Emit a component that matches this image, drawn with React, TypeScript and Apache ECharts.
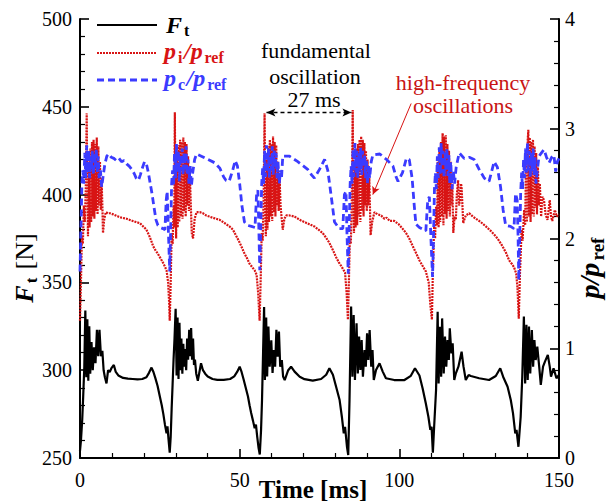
import React, { useEffect, useRef } from "react";
import * as echarts from "echarts";

const SERIF = "Liberation Serif";
const RED = "#d81414";
const BLUE = "#3b3bff";
const TEXT_RED = "#c81414";

// Thrust F_t [N] over time [ms]
const ftData: [number, number][] = [
  [0, 254], [0.3, 260], [0.7, 272], [1.0, 285], [1.35, 302], [1.67, 334], [1.98, 296], [2.3, 329], [2.6, 294], [2.9, 325],
  [3.2, 298], [3.6, 316], [4.0, 300], [4.4, 313], [4.85, 304], [5.3, 323], [5.7, 308], [6.1, 323], [6.55, 308], [7.0, 311],
  [7.4, 300], [7.8, 296], [8.3, 292.5], [8.8, 300], [9.3, 299], [9.8, 301], [10.6, 303], [11.2, 299], [12.0, 297], [13.5, 295.6],
  [15.0, 295.2], [16.5, 295], [18.0, 294.8], [19.5, 295], [20.8, 296], [21.6, 298.5], [22.4, 301.5], [23.0, 299], [23.6, 295.5], [24.3, 291],
  [25.0, 285], [25.6, 280], [26.1, 275], [26.6, 269], [27.1, 264], [27.4, 268], [27.7, 261], [28.1, 253],
  [28.4, 262], [28.7, 278], [29.0, 292], [29.3, 306], [29.6, 318], [29.95, 335], [30.25, 297], [30.55, 330], [30.85, 295], [31.15, 327],
  [31.45, 300], [31.75, 318], [32.05, 298], [32.35, 315], [32.65, 302], [32.95, 312], [33.25, 300], [33.55, 318], [33.85, 306], [34.2, 323],
  [34.5, 308], [34.8, 324], [35.1, 306], [35.4, 318], [35.7, 303], [36.0, 306], [36.4, 298], [36.9, 294], [37.4, 299], [37.9, 304],
  [38.5, 300], [39.2, 298], [40.0, 296.4], [41.5, 295], [43.0, 294.5], [45.0, 294.5], [47.0, 295], [48.3, 296.5], [49.2, 299], [50.0, 302],
  [50.6, 299], [51.2, 295], [51.9, 290], [52.6, 285], [53.1, 280], [53.6, 275.6], [54.2, 271], [54.7, 267], [55.1, 269], [55.5, 262],
  [55.9, 256], [56.3, 252],
  [56.7, 266], [57.0, 283], [57.35, 311.5], [57.65, 336], [57.9, 294.4], [58.3, 330], [58.6, 296.4], [59.0, 324.8], [59.4, 302], [59.9, 317],
  [60.3, 298.4], [60.7, 311.5], [61.1, 302], [61.5, 323], [61.9, 307.7], [62.3, 322], [62.7, 302], [63.2, 305.8], [63.6, 296.4], [64.1, 294.4],
  [65.2, 300], [66.1, 302], [67.2, 299.2], [68.8, 296.3], [70.3, 294.9], [72.9, 294.1], [75.5, 295], [77.1, 297.4], [78.1, 301.1], [79.2, 297.4],
  [80.2, 290.6], [81.3, 283], [82.0, 273.5], [82.6, 264], [83.0, 267.8], [83.6, 256.4], [84.0, 251.7],
  [84.4, 283], [84.9, 336.2], [85.3, 296.3], [85.7, 331.4], [86.1, 294.4], [86.6, 326.7], [87.0, 298.2], [87.4, 319.1], [87.8, 300.1], [88.2, 317.2],
  [88.6, 296.3], [89.1, 311.5], [89.5, 302], [89.9, 321], [90.3, 305.8], [90.7, 322.9], [91.2, 302], [91.6, 311.5], [92.0, 294.4], [92.7, 300.1],
  [93.8, 303.9], [94.8, 299.2], [95.8, 295.4], [98.4, 294.4], [101.6, 294.4], [103.6, 296.8], [104.9, 301.1], [106.3, 297], [107.3, 289.6], [108.3, 281],
  [109.1, 273.5], [109.7, 266], [110.1, 267.8], [110.5, 253],
  [110.9, 267.8], [111.5, 288.7], [112.0, 333.3], [112.3, 292.5], [112.7, 324.8], [113.1, 296.3], [113.4, 329.5], [113.9, 298.2], [114.3, 319.1], [114.7, 302],
  [115.1, 317.2], [115.5, 305.8], [115.8, 323.9], [116.3, 309.6], [116.7, 315.3], [117.2, 294.4], [117.7, 298.2], [118.5, 302], [119.5, 310.5], [120.1, 302],
  [120.8, 294.4], [121.7, 297.3], [122.4, 296.7], [125.0, 295.4], [128.1, 294.4], [130.2, 296.7], [131.6, 301.1], [132.5, 296.3], [133.9, 290.6], [134.9, 283],
  [135.6, 275.4], [136.3, 264], [136.7, 266], [137.3, 256.4],
  [138.0, 273.5], [138.5, 296.3], [139.0, 330.5], [139.4, 292.5], [139.8, 325.8], [140.2, 294.4], [140.6, 324.8], [141.0, 298.2], [141.5, 322.9], [141.9, 302],
  [142.3, 317.2], [142.7, 305.8], [143.2, 313.4], [143.8, 302], [144.3, 291.6], [145.0, 302], [145.6, 304.9], [146.5, 308.7], [147.1, 302], [147.5, 296.3],
  [148.3, 301.1], [149.2, 295.4], [150, 297.3],
];

// Injector pressure ratio p_i / p_ref
const piData: [number, number][] = [
  [0, 1.25], [0.3, 1.6], [0.6, 2.02], [0.9, 1.95], [1.2, 2.3], [1.5, 2.15], [1.8, 2.45], [2.1, 3.14], [2.3, 2.4], [2.5, 2.02],
  [2.75, 2.7], [3.0, 2.1], [3.25, 2.82], [3.5, 2.15], [3.75, 2.88], [4.0, 2.2], [4.25, 2.9], [4.5, 2.18], [4.75, 2.86], [5.0, 2.25],
  [5.25, 2.92], [5.5, 2.22], [5.75, 2.84], [6.0, 2.3], [6.25, 2.7], [6.5, 2.26], [6.75, 2.55], [7.0, 2.3], [7.2, 2.05], [7.6, 2.18],
  [8.1, 2.24], [8.8, 2.23], [9.4, 2.23], [10.4, 2.22], [11.2, 2.21], [12.0, 2.2], [13.0, 2.19], [14.6, 2.18], [15.5, 2.17], [16.5, 2.16],
  [17.5, 2.15], [18.75, 2.14], [19.8, 2.11], [20.8, 2.08], [21.6, 2.03], [22.3, 1.98], [22.9, 1.93], [23.7, 1.89], [24.4, 1.86], [25.0, 1.83],
  [25.8, 1.79], [26.5, 1.75], [27.1, 1.71], [27.6, 1.6], [27.9, 1.42], [28.1, 1.25],
  [28.4, 1.6], [28.7, 2.05], [29.0, 1.95], [29.3, 2.3], [29.5, 2.1], [29.7, 3.15], [29.9, 2.3], [30.1, 2.0], [30.35, 2.75], [30.6, 2.1],
  [30.85, 2.85], [31.1, 2.15], [31.35, 2.9], [31.6, 2.2], [31.85, 2.88], [32.1, 2.18], [32.35, 2.92], [32.6, 2.25], [32.85, 2.88], [33.1, 2.2],
  [33.35, 2.86], [33.6, 2.3], [33.85, 2.75], [34.1, 2.25], [34.4, 2.6], [34.7, 2.3], [35.0, 2.05], [35.4, 2.0], [35.9, 2.18], [36.5, 2.24],
  [37.5, 2.24], [38.5, 2.23], [39.5, 2.21], [40.5, 2.2], [41.5, 2.19], [42.6, 2.18], [43.75, 2.17], [44.8, 2.15], [45.8, 2.13], [46.8, 2.11],
  [47.9, 2.08], [48.8, 2.03], [49.7, 1.98], [50.5, 1.93], [51.4, 1.87], [52.3, 1.82], [53.1, 1.77], [53.9, 1.74], [54.7, 1.71], [55.3, 1.67],
  [55.8, 1.5], [56.25, 1.25],
  [56.6, 1.65], [56.9, 2.05], [57.2, 1.98], [57.5, 2.35], [57.8, 3.14], [58.0, 2.3], [58.2, 2.02], [58.45, 2.72], [58.7, 2.08], [58.95, 2.84],
  [59.2, 2.15], [59.45, 2.9], [59.7, 2.2], [59.95, 2.86], [60.2, 2.16], [60.45, 2.93], [60.7, 2.24], [60.95, 2.88], [61.2, 2.2], [61.45, 2.85],
  [61.7, 2.3], [61.95, 2.7], [62.2, 2.25], [62.5, 2.55], [62.8, 2.3], [63.1, 2.2], [63.5, 2.08], [64.0, 2.18], [64.6, 2.21], [65.6, 2.21],
  [67.2, 2.2], [68.8, 2.17], [70.3, 2.15], [71.8, 2.13], [73.4, 2.11], [74.7, 2.08], [76.0, 2.05], [77.0, 2.01], [78.1, 1.96], [79.1, 1.9],
  [80.2, 1.83], [81.1, 1.78], [82.0, 1.74], [83.0, 1.69], [83.5, 1.5], [83.9, 1.26],
  [84.2, 1.6], [84.5, 2.0], [84.8, 1.95], [85.1, 2.3], [85.4, 3.17], [85.6, 2.35], [85.8, 2.05], [86.05, 2.7], [86.3, 2.1], [86.55, 2.82],
  [86.8, 2.12], [87.05, 2.86], [87.3, 2.2], [87.55, 2.9], [87.8, 2.15], [88.05, 2.93], [88.3, 2.25], [88.55, 2.9], [88.8, 2.2], [89.05, 2.87],
  [89.3, 2.3], [89.55, 2.8], [89.8, 2.25], [90.05, 2.72], [90.3, 2.3], [90.6, 2.55], [91.0, 2.03], [91.5, 2.15], [92.2, 2.24], [93.2, 2.22],
  [94.3, 2.21], [95.3, 2.18], [96.0, 2.19], [97.0, 2.16], [98.4, 2.16], [99.8, 2.13], [101.0, 2.09], [102.1, 2.05], [103.1, 2.0], [104.2, 1.93],
  [105.2, 1.87], [106.3, 1.8], [107.3, 1.75], [108.3, 1.7], [109.2, 1.6], [109.7, 1.4], [110.2, 1.26],
  [110.5, 1.7], [110.9, 2.11], [111.2, 2.0], [111.5, 2.29], [111.8, 2.12], [112.05, 2.7], [112.3, 2.1], [112.55, 2.8], [112.8, 2.15], [113.05, 2.88],
  [113.3, 2.2], [113.55, 2.96], [113.8, 2.12], [114.05, 2.93], [114.3, 2.22], [114.55, 2.94], [114.8, 2.18], [115.05, 2.86], [115.3, 2.25], [115.55, 2.8],
  [115.8, 2.2], [116.05, 2.7], [116.35, 2.3], [116.6, 2.5], [116.9, 2.05], [117.3, 2.2], [117.7, 2.17], [118.0, 2.4], [118.4, 2.53], [118.7, 2.3],
  [119.0, 2.35], [119.3, 2.5], [119.5, 2.47], [120.0, 2.14], [120.8, 2.21], [121.9, 2.23], [123.0, 2.2], [124.0, 2.18], [125.5, 2.15], [127.1, 2.11],
  [128.6, 2.07], [130.2, 2.02], [131.2, 1.98], [132.3, 1.93], [133.4, 1.87], [134.4, 1.8], [135.2, 1.77], [135.9, 1.74], [136.6, 1.68], [137.0, 1.55],
  [137.4, 1.27],
  [137.8, 1.7], [138.3, 2.08], [138.6, 1.98], [139.1, 2.26], [139.4, 2.12], [139.7, 2.75], [139.95, 2.15], [140.2, 2.9], [140.4, 2.99], [140.6, 2.2],
  [140.85, 2.92], [141.1, 2.15], [141.35, 2.88], [141.6, 2.22], [141.85, 2.9], [142.1, 2.2], [142.35, 2.84], [142.6, 2.28], [142.85, 2.78], [143.1, 2.22],
  [143.4, 2.65], [143.7, 2.3], [144.0, 2.5], [144.4, 2.2], [144.8, 2.38], [145.3, 2.35], [145.8, 2.22], [146.4, 2.17], [147.1, 2.35], [147.5, 2.2],
  [147.9, 2.16], [148.7, 2.26], [149.3, 2.2], [150, 2.22],
];

// Chamber pressure ratio p_c / p_ref
const pcData: [number, number][] = [
  [0, 1.7], [0.3, 2.1], [0.6, 2.5], [0.9, 2.62], [1.2, 2.5], [1.5, 2.78], [1.8, 2.55], [2.1, 2.85], [2.4, 2.6], [2.7, 2.8],
  [3.0, 2.55], [3.3, 2.75], [3.6, 2.62], [3.9, 2.8], [4.2, 2.58], [4.5, 2.78], [4.8, 2.65], [5.1, 2.82], [5.4, 2.6], [5.7, 2.75],
  [6.0, 2.55], [6.4, 2.62], [6.8, 2.47], [7.3, 2.58], [7.8, 2.68], [8.4, 2.75], [9.0, 2.77], [9.8, 2.74], [10.6, 2.73], [11.4, 2.71],
  [12.2, 2.73], [13.0, 2.7], [13.8, 2.71], [14.6, 2.68], [15.4, 2.66], [16.2, 2.63], [17.0, 2.59], [17.6, 2.55], [18.3, 2.53], [18.9, 2.58],
  [19.5, 2.64], [20.2, 2.7], [20.8, 2.68], [21.4, 2.6], [22.0, 2.5], [22.6, 2.4], [23.2, 2.28], [23.8, 2.17], [24.4, 2.12], [25.2, 2.1],
  [26.0, 2.09], [26.6, 2.08], [27.0, 2.35], [27.3, 2.43], [27.7, 2.05], [28.1, 1.7],
  [28.4, 2.1], [28.7, 2.5], [29.0, 2.62], [29.3, 2.48], [29.6, 2.78], [29.9, 2.55], [30.2, 2.86], [30.5, 2.6], [30.8, 2.8], [31.1, 2.52],
  [31.4, 2.76], [31.7, 2.62], [32.0, 2.82], [32.3, 2.58], [32.6, 2.78], [32.9, 2.63], [33.2, 2.84], [33.5, 2.58], [33.8, 2.72], [34.1, 2.5],
  [34.5, 2.66], [34.9, 2.48], [35.3, 2.6], [35.9, 2.72], [36.5, 2.77], [38.0, 2.75], [40.1, 2.72], [42.2, 2.69], [43.8, 2.64], [45.0, 2.56],
  [45.7, 2.53], [46.7, 2.52], [47.8, 2.62], [48.6, 2.71], [49.3, 2.66], [50.0, 2.5], [50.7, 2.3], [51.5, 2.15], [52.5, 2.12], [53.7, 2.11],
  [54.8, 2.1], [55.3, 2.4], [55.7, 2.44], [56.0, 2.1], [56.3, 1.71],
  [56.6, 2.1], [56.9, 2.5], [57.2, 2.64], [57.5, 2.5], [57.8, 2.8], [58.1, 2.56], [58.4, 2.85], [58.7, 2.6], [59.0, 2.82], [59.3, 2.55],
  [59.6, 2.76], [59.9, 2.62], [60.2, 2.84], [60.5, 2.58], [60.8, 2.8], [61.1, 2.64], [61.4, 2.78], [61.7, 2.55], [62.0, 2.7], [62.4, 2.5],
  [62.8, 2.62], [63.1, 2.55], [63.5, 2.75], [65.6, 2.75], [68.2, 2.7], [70.0, 2.66], [71.3, 2.63], [72.5, 2.58], [73.4, 2.55], [75.0, 2.63],
  [76.6, 2.72], [77.6, 2.62], [78.6, 2.4], [79.7, 2.15], [81.2, 2.09], [82.3, 2.09], [82.8, 2.4], [83.3, 2.43], [83.6, 2.05], [84.0, 1.68],
  [84.3, 2.1], [84.6, 2.5], [84.9, 2.66], [85.2, 2.5], [85.5, 2.82], [85.8, 2.56], [86.1, 2.87], [86.4, 2.6], [86.7, 2.8], [87.0, 2.55],
  [87.3, 2.78], [87.6, 2.62], [87.9, 2.83], [88.2, 2.58], [88.5, 2.8], [88.8, 2.65], [89.1, 2.76], [89.4, 2.55], [89.7, 2.72], [90.0, 2.5],
  [90.4, 2.66], [90.7, 2.55], [91.2, 2.7], [91.7, 2.76], [93.9, 2.77], [96.0, 2.72], [98.0, 2.66], [99.0, 2.56], [99.6, 2.52], [101.0, 2.6],
  [102.2, 2.73], [103.1, 2.72], [104.0, 2.55], [104.7, 2.29], [105.2, 2.13], [106.3, 2.1], [108.3, 2.07], [108.9, 2.35], [109.4, 2.38], [109.9, 2.0],
  [110.4, 1.65],
  [110.7, 2.0], [111.0, 2.45], [111.3, 2.6], [111.6, 2.45], [111.9, 2.75], [112.2, 2.55], [112.5, 2.83], [112.8, 2.58], [113.1, 2.87], [113.4, 2.6],
  [113.7, 2.8], [114.0, 2.55], [114.3, 2.78], [114.6, 2.62], [114.9, 2.82], [115.2, 2.57], [115.5, 2.76], [115.8, 2.5], [116.1, 2.7], [116.5, 2.45],
  [116.9, 2.62], [117.3, 2.5], [117.8, 2.65], [118.75, 2.78], [120.3, 2.73], [121.9, 2.74], [123.4, 2.72], [125.0, 2.63], [126.6, 2.55], [128.1, 2.52],
  [129.7, 2.7], [130.7, 2.65], [131.7, 2.47], [132.5, 2.26], [133.3, 2.12], [134.8, 2.11], [135.9, 2.09], [136.4, 2.41], [136.9, 2.35], [137.2, 2.0],
  [137.4, 1.62],
  [137.7, 2.0], [138.0, 2.42], [138.3, 2.6], [138.6, 2.45], [138.9, 2.72], [139.2, 2.55], [139.5, 2.82], [139.8, 2.6], [140.1, 2.87], [140.4, 2.62],
  [140.7, 2.8], [141.0, 2.55], [141.3, 2.78], [141.6, 2.6], [141.9, 2.82], [142.2, 2.58], [142.5, 2.74], [142.8, 2.5], [143.2, 2.62], [143.75, 2.75],
  [144.5, 2.78], [145.3, 2.81], [146.1, 2.74], [146.9, 2.69], [147.7, 2.74], [148.4, 2.76], [148.96, 2.61], [149.5, 2.7], [150, 2.73],
];

// Axis ranges
const timeRange = { min: 0, max: 150, interval: 50 };
const forceRange = { min: 250, max: 500, interval: 50 };
const ratioRange = { min: 0, max: 4, interval: 1 };

// Period marker between two injector spikes (ms, N) and the pointer to the oscillation cluster (ms, p/p_ref)
const periodArrow: [[number, number], [number, number]] = [[58.4, 446.8], [85.0, 446.8]];
const hfPointer: [[number, number], [number, number]] = [[103.7, 3.23], [91.7, 2.4]];

type Piece = {
  text: string;
  size: number;
  weight?: string;
  style?: string;
  dy?: number;
};

let measureCtx: CanvasRenderingContext2D | null = null;
function textWidth(p: Piece): number {
  if (!measureCtx) measureCtx = document.createElement("canvas").getContext("2d");
  if (!measureCtx) return p.text.length * p.size * 0.5;
  measureCtx.font = `${p.style || "normal"} ${p.weight || "normal"} ${p.size}px ${SERIF}`;
  return measureCtx.measureText(p.text).width;
}

// Lays a run of differently styled text pieces (base text plus subscripts) side by side.
function textRun(
  pieces: Piece[],
  x: number,
  y: number,
  color: string,
  align: "left" | "center" = "left",
  rotation = 0
) {
  const widths = pieces.map((p, i) => {
    const next = pieces[i + 1];
    let extra = 0;
    // italic correction before an upright piece, small gap after a subscript
    if (p.style === "italic" && next && next.style !== "italic") extra = p.size * 0.08;
    if (p.dy && next) extra = p.size * 0.1;
    return textWidth(p) + extra;
  });
  const total = widths.reduce((a, b) => a + b, 0);
  let cursor = align === "center" ? -total / 2 : 0;
  const children = pieces.map((p, i) => {
    const el = {
      type: "text",
      x: cursor,
      y: p.dy || 0,
      silent: true,
      style: {
        text: p.text,
        fill: color,
        fontSize: p.size,
        fontFamily: SERIF,
        fontWeight: p.weight || "normal",
        fontStyle: p.style || "normal",
        align: "left",
        verticalAlign: "middle",
      },
    };
    cursor += widths[i];
    return el;
  });
  return { type: "group", x, y, rotation, silent: true, children };
}

function plainText(text: string, x: number, y: number, color: string, size: number) {
  return {
    type: "text",
    x,
    y,
    silent: true,
    style: {
      text,
      fill: color,
      fontSize: size,
      fontFamily: SERIF,
      fontWeight: "normal",
      fontStyle: "normal",
      align: "center",
      verticalAlign: "middle",
    },
  };
}

const ratioPieces = (sub: string): Piece[] => [
  { text: "p", size: 24, weight: "bold", style: "italic" },
  { text: sub, size: 16, weight: "bold", dy: 6 },
  { text: "/p", size: 24, weight: "bold", style: "italic" },
  { text: "ref", size: 16, weight: "bold", dy: 6 },
];

export default function App() {
  const ref = useRef<HTMLDivElement>(null);

  useEffect(() => {
    if (!ref.current) return;
    const chart = echarts.init(ref.current, null, { renderer: "svg" });

    const axisLine = { show: true, onZero: false, lineStyle: { color: "#000", width: 2 } };
    const axisTick = { show: true, inside: true, length: 9, lineStyle: { color: "#000", width: 1.6 } };
    const minorTick = { show: true, splitNumber: 5, length: 5, lineStyle: { color: "#000", width: 1.2 } };
    const axisLabel = (margin: number) => ({
      color: "#000",
      fontFamily: SERIF,
      fontSize: 20,
      margin,
    });

    const legendLine = (y: number, color: string, dash: number[] | "solid", width: number) => ({
      type: "line",
      silent: true,
      shape: { x1: 97, y1: y, x2: 157, y2: y },
      style: { stroke: color, lineWidth: width, lineDash: dash === "solid" ? null : dash },
    });

    const option: echarts.EChartsOption = {
      animation: false,
      backgroundColor: "#fff",
      textStyle: { fontFamily: SERIF, color: "#000" },
      grid: { left: 80, right: 57, top: 19, bottom: 44, containLabel: false },
      xAxis: {
        type: "value",
        min: timeRange.min,
        max: timeRange.max,
        interval: timeRange.interval,
        axisLine,
        axisTick,
        minorTick,
        axisLabel: axisLabel(12),
        splitLine: { show: false },
      },
      yAxis: [
        {
          type: "value",
          position: "left",
          min: forceRange.min,
          max: forceRange.max,
          interval: forceRange.interval,
          axisLine,
          axisTick,
          minorTick,
          axisLabel: axisLabel(8),
          splitLine: { show: false },
        },
        {
          type: "value",
          position: "right",
          min: ratioRange.min,
          max: ratioRange.max,
          interval: ratioRange.interval,
          axisLine,
          axisTick,
          minorTick,
          axisLabel: axisLabel(6),
          splitLine: { show: false },
        },
      ],
      series: [
        {
          name: "F_t",
          type: "line",
          yAxisIndex: 0,
          data: ftData,
          showSymbol: false,
          symbol: "none",
          lineStyle: { color: "#000", width: 2.2 },
          z: 3,
          markLine: {
            silent: true,
            symbol: ["arrow", "arrow"],
            symbolSize: [6, 9],
            label: { show: false },
            lineStyle: { color: "#000", width: 1.3, type: [4, 3] },
            data: [[{ coord: periodArrow[0] }, { coord: periodArrow[1] }]],
          },
        },
        {
          name: "p_i/p_ref",
          type: "line",
          yAxisIndex: 1,
          data: piData,
          showSymbol: false,
          symbol: "none",
          lineStyle: { color: RED, width: 2.2, type: [2, 1] },
          z: 4,
          markLine: {
            silent: true,
            symbol: ["none", "arrow"],
            symbolSize: [6, 8],
            label: { show: false },
            lineStyle: { color: RED, width: 1, type: "solid" },
            data: [[{ coord: hfPointer[0] }, { coord: hfPointer[1] }]],
          },
        },
        {
          name: "p_c/p_ref",
          type: "line",
          yAxisIndex: 1,
          data: pcData,
          showSymbol: false,
          symbol: "none",
          lineStyle: { color: BLUE, width: 2.8, type: [7, 4] },
          z: 5,
        },
      ],
      graphic: {
        elements: [
          // legend
          legendLine(25, "#000", "solid", 2.2),
          legendLine(53, RED, [2, 1], 2.2),
          legendLine(80, BLUE, [7, 4], 2.8),
          textRun(
            [
              { text: "F", size: 24, weight: "bold", style: "italic" },
              { text: "t", size: 16, weight: "bold", dy: 5 },
            ],
            166,
            25,
            "#000"
          ),
          textRun(ratioPieces("i"), 164, 51, RED),
          textRun(ratioPieces("c"), 164, 78, BLUE),
          // axis titles
          textRun([{ text: "Time [ms]", size: 25, weight: "bold" }], 313, 489, "#000", "center"),
          textRun(
            [
              { text: "F", size: 26, weight: "bold", style: "italic" },
              { text: "t", size: 17, weight: "bold", dy: 7 },
              { text: " [N]", size: 26 },
            ],
            24,
            268,
            "#000",
            "center",
            Math.PI / 2
          ),
          textRun(
            [
              { text: "p/p", size: 28, weight: "bold", style: "italic" },
              { text: "ref", size: 19, weight: "bold", dy: 8 },
            ],
            589,
            268,
            "#000",
            "center",
            Math.PI / 2
          ),
          // annotations
          plainText("fundamental", 316, 50, "#000", 22),
          plainText("oscillation", 315, 76, "#000", 22),
          plainText("27 ms", 314, 99, "#000", 22),
          plainText("high-frequency", 463, 82, TEXT_RED, 22),
          plainText("oscillations", 463, 105, TEXT_RED, 22),
        ],
      },
    };

    chart.setOption(option);
    return () => chart.dispose();
  }, []);

  return (
    <div
      ref={ref}
      style={{ position: "fixed", left: 0, top: 0, width: 616, height: 502, background: "#fff" }}
    />
  );
}
